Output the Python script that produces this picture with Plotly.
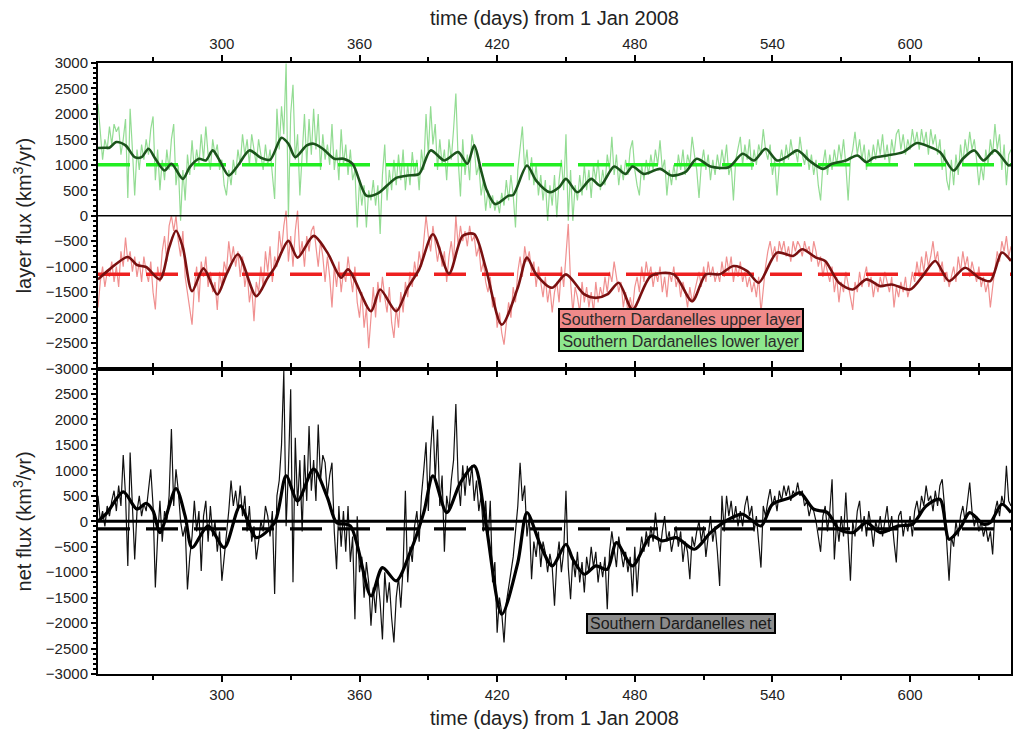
import plotly.graph_objects as go

# ---------------- data ----------------
days = list(range(246, 645))  # daily samples, days from 1 Jan 2008

lower_raw = [
    2200, 1700, 1100, 1500, 1300, 1750, 1400, 1800, 1650, 1750,
    1200, 1500, 1900, 350, 2100, 1300, 400, 1300, 900, 1400,
    1100, 1500, 1200, 1700, 1950, 700, 1300, 500, 1100, 700,
    1300, 900, 1500, 1800, 600, 1000, -100, 900, 300, 1200,
    800, 1480, 900, 1300, 1000, 1600, 1100, 1750, 1200, 900,
    1500, 1200, 1400, 900, 1100, 600, 400, 900, 600, 1100,
    800, 1300, 1000, 1600, 1200, 1500, 1000, 1600, 1300, 1000,
    1500, 1200, 900, 1400, 1000, 1300, 800, 330, 2100, 1300,
    2150, 1600, 2990, -30, 2000, 2570, 1100, 1600, 400, 1300,
    2000, 1000, 1900, 1200, 2100, 1300, 2000, 900, 1600, 1100,
    1400, 1000, 1800, 900, 1300, 700, 1700, 1000, 1400, 800,
    1300, 700, 900, -230, 700, 200, 600, -230, 500, 300,
    700, 200, 600, -360, 800, 1400, 300, 900, 500, 1100,
    600, 1200, 700, 1300, 500, 1000, 600, 1250, 800, 1100,
    500, 1300, 900, 2000, 1200, 2150, 1400, 1800, 900, 1500,
    1000, 1300, 700, 1500, 1100, 1700, 2400, 1100, 380, 1500,
    800, 1200, 700, 1600, 1350, 800, 1000, 400, 700, 100,
    500, 150, 400, 100, 300, 50, 450, 200, 700, 300,
    800, 400, -230, 900, 1400, 1750, 900, 1300, 700, 1150,
    600, 1000, 400, 800, 300, 700, -100, 600, 200, 800,
    -30, 700, 1100, 500, 1600, -100, 900, -100, 600, 300,
    800, 400, 1000, 500, 900, 350, 1000, 700, 1100, 500,
    900, 600, 1200, 900, 1550, 800, 1200, 600, 1000, 700,
    1100, 800, 1300, 1480, 900, 600, 400, 1000, 700, 1100,
    800, 1200, 900, 1300, 1000, 1480, 900, 1100, 400, 900,
    600, 1000, 700, 1200, 900, 1300, 800, 1200, 1000, 1550,
    1200, 900, 350, 1000, 1300, 900, 1200, 700, 1100, 800,
    1200, 900, 1300, 1000, 1400, 800, 1000, 300, 1100, 1300,
    1550, 1000, 1400, 1100, 1500, 900, 1300, 1000, 1400, 1200,
    1700, 1300, 1100, 1400, 800, 1100, 400, 1000, 1300, 1000,
    1400, 1100, 1500, 1200, 1300, 1050, 1550, 1200, 1000, 1300,
    900, 1200, 800, 1100, 600, 300, 1000, 1300, 800, 1200,
    900, 1300, 1000, 1400, 1100, 1500, 1000, 300, 1100, 1300,
    1650, 1200, 1500, 1100, 1400, 900, 1300, 1000, 1400, 1100,
    1500, 1200, 1600, 1100, 1400, 1000, 1500, 1200, 1600, 1700,
    1300, 1600, 1200, 1500, 1300, 1700, 1400, 1650, 1300, 1700,
    1400, 1650, 1200, 1700, 1400, 1600, 1200, 1500, 900, 1300,
    700, 500, 1100, 600, 1200, 800, 1400, 1000, 1500, 1200,
    1650, 1300, 1500, 1100, 600, 1000, 700, 1300, 1000, 1500,
    1200, 1800, 1300, 1600, 900, 1400, 600, 1200, 1300,
]

upper_raw = [
    -1800, -1300, -1000, -1400, -1100, -1200, -900, -1300, -1000, -1400,
    -700, -1000, -430, -900, -700, -1100, -800, -1200, -900, -1300,
    -800, -1100, -1300, -900, -1500, -1840, -1000, -1300, -700, -400,
    -900, -200, 0, -300, 0, -500, -800, -300, -1200, -1500,
    -1800, -2140, -1400, -1000, -1700, -900, -1200, -800, -1400, -1100,
    -1500, -1300, -1850, -1100, -1400, -900, -1100, -500, -900, -600,
    -1000, -700, -1200, -800, -1400, -1100, -1700, -1400, -2070, -1300,
    -1500, -1000, -1400, -700, -1100, -600, -1300, -800, -1000, -300,
    -700, -200, 100, -900, -400, -1000, -300, 100, -800, -500,
    -1000, -400, -700, -300, -200, -600, -1000, -500, -800, -1300,
    -800, -1200, -1800, -1000, -1400, -900, -1500, -1100, -1300, -800,
    -1200, -1500, -1000, -1700, -2000, -1500, -2200, -1800, -2600, -1900,
    -1400, -2000, -1300, -1700, -1200, -1600, -1900, -1400, -2100, -2400,
    -1800, -2200, -1500, -1900, -1300, -1600, -1100, -1400, -900, -1200,
    -700, -1000, -500, 0, -400, -700, -200, -500, -900, -600,
    -1000, -700, -1300, -800, -500, -900, 0, -600, -200, -500,
    -300, -600, -200, -500, -400, -800, -600, -1100, -900, -1300,
    -1500, -1200, -1800, -1600, -2200, -1900, -2300, -2530, -2100, -1700,
    -2000, -1400, -1700, -1100, -800, -1200, -600, -900, -700, -1100,
    -900, -1400, -1000, -1300, -1600, -1200, -1700, -1400, -1900, -1500,
    -1300, -1700, -1000, -1400, -700, -160, -1300, -1900, -1400, -1600,
    -1900, -1300, -1700, -1400, -1800, -1500, -1900, -1300, -1700, -1400,
    -1600, -1200, -1500, -1100, -1300, -900, -1200, -1500, -1300, -1800,
    -1500, -1900, -1600, -1850, -1400, -1200, -1500, -1000, -1300, -900,
    -1200, -1000, -1400, -1100, -1300, -1000, -1500, -1200, -1600, -1100,
    -1300, -1000, -1400, -1200, -1600, -1300, -1500, -1800, -1400, -1700,
    -1500, -1300, -1100, -1400, -1000, -1300, -900, -1200, -1000, -1300,
    -1100, -1300, -900, -1200, -800, -1100, -800, -1300, -1000, -1200,
    -900, -1300, -1100, -1400, -1200, -1500, -1300, -1600, -1200, -1900,
    -1400, -1000, -700, -500, -800, -600, -900, -500, -700, -500,
    -800, -600, -900, -500, -700, -500, -600, -800, -500, -700,
    -600, -900, -500, -700, -1000, -800, -1200, -900, -1100, -1300,
    -1000, -1500, -1200, -1700, -1300, -1500, -1100, -1400, -1600, -1850,
    -1300, -1500, -1100, -1400, -1200, -1000, -1400, -1200, -1600, -1300,
    -1500, -1200, -1400, -1100, -1300, -1500, -1200, -1800, -1400, -1600,
    -1300, -1500, -1200, -1600, -1400, -1100, -1300, -900, -1200, -800,
    -1100, -700, -1000, -800, -500, -900, -700, -1100, -900, -1300,
    -1100, -1400, -1200, -1000, -1300, -800, -1100, -700, -1000, -800,
    -1200, -900, -1100, -1300, -1000, -1400, -1200, -1500, -1300, -1800,
    -1400, -1100, -700, -900, -500, -700, -400, -800, -600,
]

net_raw = [
    500, 0, 200, -100, 300, 100, 400, 600, 200, 700,
    300, 1300, 500, -880, 1350, 400, -750, 200, 500, 100,
    350, 200, 600, 1020, 300, -1300, -300, 400, -400, 200,
    0, 500, 1810, 300, 1020, 600, 0, -300, -100, -1340,
    -700, -300, 400, -200, 200, -975, 100, 400, -400, 300,
    -300, 0, -600, -200, -1170, -700, -300, 200, 800, 300,
    600, 200, 700, 100, 500, -200, 300, -400, -100, -750,
    -400, 0, -200, 300, 100, -300, 200, -1430, 500, 800,
    1500, 2950, -100, 1000, 2590, -1200, 1640, 300, 1200, -200,
    1300, 400, 1870, 600, 1200, 400, 1900, 800, 1300, 1150,
    500, 900, 1150, -200, -940, 300, -500, 200, -600, 300,
    -800, -300, -1925, 100, -1000, -700, -1500, -800, -1200, -2050,
    -1300, -1800, -1100, -1600, -2320, -1000, -1600, -1200, -1900, -2380,
    -1500, -1100, -1700, -900, 600, -1200, -500, -800, -100, 200,
    -400, 500, 1000, 1550, 200, 1400, 2070, 800, 1800, 300,
    900, -600, 500, 200, 800, 1200, 2300, 800, 300, 1100,
    500, 1090, 700, 1100, 400, 800, 200, 500, -200, 400,
    -400, 400, -1200, -800, -2190, -1500, -1800, -2380, -1600, -1300,
    -1000, -700, -200, 300, 1150, 400, 700, -300, 100, -1140,
    -400, -700, -200, -900, -400, -620, -1000, -640, -900, -1660,
    -800, -400, -1000, -600, 600, -900, -1530, -700, -1100, -600,
    -1200, -800, -1400, -700, -1000, -500, -900, -600, -1200, -800,
    -1100, -700, -1730, -600, -200, -500, -900, -300, -600, -900,
    -600, -1000, -700, -1470, -500, -1400, -700, -300, -600, -200,
    -500, -100, -400, 170, -300, -600, -200, 100, -400, -200,
    -600, -300, -100, -500, -200, -800, -400, -600, -1140, -300,
    -500, -200, 0, -400, -100, -700, -300, 100, -400, -100,
    -600, -1270, 500, -200, 500, 100, 400, 0, 300, -100,
    200, -100, 300, 500, 100, 300, -200, 100, -400, -910,
    300, 100, 400, 630, 300, 500, 200, 600, 400, 700,
    500, 700, 400, 600, 500, 760, 500, 600, 300, 400,
    100, 300, 200, 0, -300, -600, 100, 300, -200, 200,
    825, -750, 0, -400, 100, -300, 563, -200, -1170, 0,
    -300, 200, 400, -200, 100, -300, 200, -100, -500, 0,
    -200, 100, -300, 0, 300, -200, 100, -400, -810, 100,
    200, -300, 0, -200, 100, -300, 200, 400, 100, 500,
    300, 700, 400, 500, 200, 600, 300, 700, 825, 300,
    -400, -1170, -300, -500, 0, -300, 100, 300, 0, 400,
    760, 200, -100, 100, -200, 0, -300, -100, -400, -200,
    -650, 200, 400, 100, 500, 300, 1090, 400, 300,
]

lower_smooth_days = [
    246, 249, 251, 254, 258, 262, 265, 268, 271, 275,
    278, 283, 286, 290, 293, 296, 299, 303, 307, 312,
    317, 321, 326, 329, 332, 337, 340, 344, 349, 353,
    357, 363, 368, 372, 376, 381, 386, 391, 397, 403,
    407, 410, 413, 415.5, 419, 421, 425, 427, 433, 437,
    443, 447, 450, 455, 461, 465, 471, 476, 479, 484,
    491, 496, 502, 507, 513, 521, 527, 532, 537, 542,
    546, 551, 556, 562, 566, 572, 577, 581, 584, 590,
    597, 603, 608, 613, 619, 623, 628, 632, 637, 643,
    644,
]
lower_smooth = [
    1330, 1336, 1336, 1448, 1382, 1151, 1151, 1316, 1119, 888,
    1020, 724, 954, 1119, 1086, 1283, 1086, 790, 987, 1283,
    1138, 1099, 1533, 1415, 1151, 1382, 1415, 1316, 1119, 1119,
    1020, 395, 441, 592, 744, 790, 822, 1283, 1086, 1250,
    1020, 1382, 888, 494, 230, 263, 395, 408, 987, 691,
    461, 559, 724, 461, 724, 592, 967, 822, 967, 822,
    921, 790, 855, 1119, 967, 954, 1217, 1086, 1316, 1086,
    1151, 1283, 1086, 921, 1020, 1086, 1184, 1053, 1138, 1184,
    1250, 1428, 1362, 1250, 888, 1119, 1283, 1086, 1283, 987,
    1007,
]

upper_smooth_days = [
    246, 251, 259, 263, 267, 273, 277, 280, 283, 287,
    292, 298, 302, 307, 315, 320, 323, 329, 333, 340,
    346, 352, 355, 365, 369, 376, 381, 386, 392, 399,
    405, 410, 415, 422, 429, 433, 437, 444, 450, 458,
    463, 468, 473, 479, 487, 497, 505, 511, 517, 523,
    529, 534, 542, 549, 553, 559, 563, 569, 575, 581,
    587, 592, 600, 606, 611, 617, 624, 630, 635, 640,
    644,
]
upper_smooth = [
    -1250, -1053, -809, -967, -1007, -1250, -625, -296, -625, -1481,
    -1033, -1546, -1151, -757, -1579, -1217, -1020, -494, -822, -395,
    -724, -1217, -1053, -1875, -1448, -1875, -1415, -1053, -362, -1138,
    -395, -362, -1020, -2139, -1415, -822, -1151, -1415, -1151, -1546,
    -1612, -1546, -1316, -1842, -1184, -1151, -1678, -1151, -1151, -987,
    -1086, -1316, -724, -790, -658, -822, -888, -1316, -1448, -1250,
    -1382, -1349, -1448, -1151, -888, -1283, -1020, -1217, -1283, -724,
    -888,
]

net_smooth_days = [
    246, 250, 257, 263, 267, 270, 273, 280, 284, 287,
    294, 301, 308, 315, 323, 328, 333, 340, 346, 350,
    356, 365, 370, 376, 382, 388, 392, 398, 404, 410,
    415, 422, 429, 433, 439, 444, 450, 453, 458, 463,
    468, 472, 479, 487, 492, 498, 506, 513, 521, 527,
    535, 540, 548, 552, 558, 564, 569, 575, 581, 587,
    595, 601, 607, 613, 617, 622, 626, 632, 635, 640,
    644,
]
net_smooth = [
    0, 170, 576, 236, 354, 203, -223, 642, 100, -517,
    -92, -517, 301, -321, -26, 891, 400, 1022, 465, -26,
    -92, -1467, -910, -1172, -616, 170, 891, 170, 760, 1087,
    -26, -1827, -812, 170, -485, -878, -452, -747, -1041, -878,
    -943, -419, -878, -288, -386, -321, -550, -223, 39, 138,
    -92, 334, 465, 563, 236, 170, -157, -223, -26, -223,
    -92, -59, 301, 432, -354, -124, 170, -59, -26, 334,
    170,
]

lower_mean = [1000, 1000]
upper_mean = [-1150, -1150]
net_mean = [-150, -150]
mean_days = [246, 644]
zero_line = [0, 0]

y_ticks_top = [-3000, -2500, -2000, -1500, -1000, -500, 0, 500, 1000, 1500, 2000, 2500, 3000]
y_ticks_bottom = [-3000, -2500, -2000, -1500, -1000, -500, 0, 500, 1000, 1500, 2000, 2500]
x_ticks = [300, 360, 420, 480, 540, 600]

# ---------------- figure ----------------
FONT = "Liberation Sans"
fig = go.Figure()

# top panel
fig.add_trace(go.Scatter(x=days, y=lower_raw, mode="lines", line=dict(color="#93dc93", width=1.2),
                         xaxis="x", yaxis="y", hoverinfo="skip"))
fig.add_trace(go.Scatter(x=days, y=upper_raw, mode="lines", line=dict(color="#f09090", width=1.2),
                         xaxis="x", yaxis="y", hoverinfo="skip"))
fig.add_trace(go.Scatter(x=mean_days, y=zero_line, mode="lines", line=dict(color="black", width=1.5),
                         xaxis="x", yaxis="y"))
fig.add_trace(go.Scatter(x=mean_days, y=lower_mean, mode="lines",
                         line=dict(color="#22ee22", width=3.5, dash="32px,16px"), xaxis="x", yaxis="y"))
fig.add_trace(go.Scatter(x=mean_days, y=upper_mean, mode="lines",
                         line=dict(color="#ee2020", width=3.5, dash="32px,16px"), xaxis="x", yaxis="y"))
fig.add_trace(go.Scatter(x=lower_smooth_days, y=lower_smooth, mode="lines",
                         line=dict(color="#1b541b", width=2.6, shape="spline", smoothing=0.8),
                         xaxis="x", yaxis="y"))
fig.add_trace(go.Scatter(x=upper_smooth_days, y=upper_smooth, mode="lines",
                         line=dict(color="#7a1010", width=2.6, shape="spline", smoothing=0.8),
                         xaxis="x", yaxis="y"))

# bottom panel
fig.add_trace(go.Scatter(x=days, y=net_raw, mode="lines", line=dict(color="#111111", width=1.2),
                         xaxis="x2", yaxis="y2", hoverinfo="skip"))
fig.add_trace(go.Scatter(x=mean_days, y=zero_line, mode="lines", line=dict(color="black", width=3),
                         xaxis="x2", yaxis="y2"))
fig.add_trace(go.Scatter(x=mean_days, y=net_mean, mode="lines",
                         line=dict(color="black", width=3.2, dash="32px,16px"), xaxis="x2", yaxis="y2"))
fig.add_trace(go.Scatter(x=net_smooth_days, y=net_smooth, mode="lines",
                         line=dict(color="black", width=3.2, shape="spline", smoothing=0.8),
                         xaxis="x2", yaxis="y2"))

tickfont = dict(family=FONT, size=15, color="#222")
common_x = dict(range=[246, 644], tickvals=x_ticks, ticks="outside", ticklen=6, tickwidth=1.5,
                tickcolor="black", showline=True, linecolor="black", linewidth=2, mirror="ticks",
                showgrid=False, zeroline=False, tickfont=tickfont,
                minor=dict(tick0=0, dtick=30, ticks="outside", ticklen=4, tickcolor="black", showgrid=False))
common_y = dict(range=[-3000, 3000], ticks="outside", ticklen=5, tickwidth=1.5, tickcolor="black",
                showline=True, linecolor="black", linewidth=2, mirror=True, showgrid=False,
                zeroline=False, tickfont=tickfont,
                minor=dict(tick0=0, dtick=100, ticks="outside", ticklen=3, tickcolor="black", showgrid=False))

fig.update_layout(
    width=1016, height=733,
    margin=dict(l=98, r=3, t=63, b=59),
    paper_bgcolor="white", plot_bgcolor="white",
    showlegend=False,
    xaxis=dict(anchor="y", side="top", **common_x),
    yaxis=dict(domain=[0.5, 1.0], anchor="x", tickvals=y_ticks_top, **common_y),
    xaxis2=dict(anchor="y2", side="bottom", **common_x),
    yaxis2=dict(domain=[0.0, 0.5], anchor="x2", tickvals=y_ticks_bottom, **common_y),
)

titlefont = dict(family=FONT, size=20, color="#222")
annotations = [
    dict(text="time (days) from 1 Jan 2008", x=0.5, y=1.0736, xref="paper", yref="paper",
         showarrow=False, font=titlefont, xanchor="center", yanchor="middle"),
    dict(text="time (days) from 1 Jan 2008", x=0.5, y=-0.072, xref="paper", yref="paper",
         showarrow=False, font=titlefont, xanchor="center", yanchor="middle"),
    dict(text="layer flux (km<sup>3</sup>/yr)", x=-0.083, y=0.751, xref="paper", yref="paper",
         showarrow=False, font=titlefont, textangle=-90, xanchor="center", yanchor="middle"),
    dict(text="net flux (km<sup>3</sup>/yr)", x=-0.083, y=0.250, xref="paper", yref="paper",
         showarrow=False, font=titlefont, textangle=-90, xanchor="center", yanchor="middle"),
    dict(text="Southern Dardanelles upper layer", x=0.639, y=0.5818, xref="paper", yref="paper",
         showarrow=False, font=dict(family=FONT, size=16, color="#2a2a2a"), bgcolor="#f08a8a",
         bordercolor="black", borderwidth=2, borderpad=0, width=242, height=18,
         xanchor="center", yanchor="middle"),
    dict(text="Southern Dardanelles lower layer", x=0.639, y=0.545, xref="paper", yref="paper",
         showarrow=False, font=dict(family=FONT, size=16, color="#2a2a2a"), bgcolor="#8ee88e",
         bordercolor="black", borderwidth=2, borderpad=0, width=242, height=18,
         xanchor="center", yanchor="middle"),
    dict(text="Southern Dardanelles net", x=0.639, y=0.0827, xref="paper", yref="paper",
         showarrow=False, font=dict(family=FONT, size=16, color="#1a1a1a"), bgcolor="#8c8c8c",
         bordercolor="black", borderwidth=2, borderpad=0, width=186, height=17,
         xanchor="center", yanchor="middle"),
]
fig.update_layout(annotations=annotations)

fig.write_html("out.html")
